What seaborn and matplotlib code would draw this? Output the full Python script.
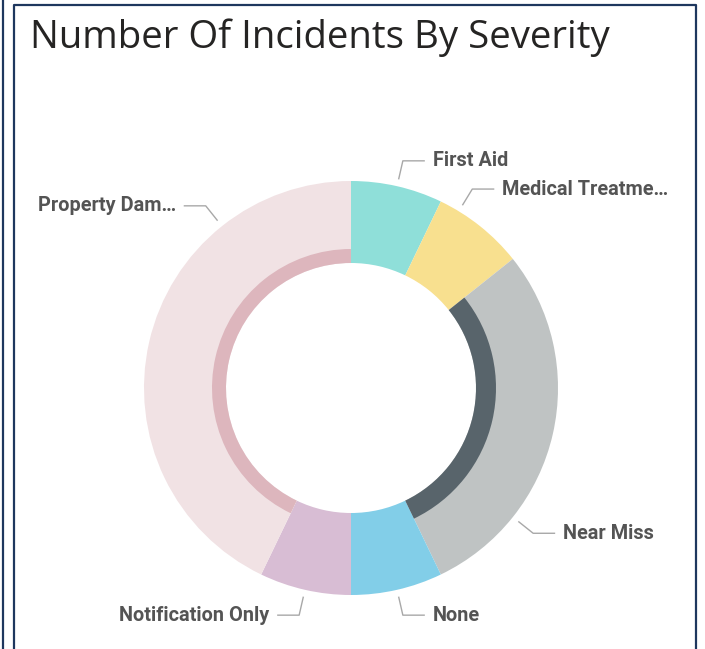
import numpy as np
import matplotlib
matplotlib.use("Agg")
import matplotlib.pyplot as plt
from matplotlib.lines import Line2D
import seaborn as sns

# ---------------- data ----------------
categories = ["First Aid", "Medical Treatment", "Near Miss", "None",
              "Notification Only", "Property Damage"]
counts = [1, 1, 4, 1, 1, 6]
display_labels = ["First Aid", "Medical Treatme…", "Near Miss", "None",
                  "Notification Only", "Property Dam…"]

# ---------------- style ----------------
sns.set_theme(style="white")
plt.rcParams['font.family'] = ['Roboto', 'DejaVu Sans']

colors = ["#8FDFD9", "#F8E08F", "#BFC3C3", "#82CEE8", "#D8BDD4", "#F1E2E4"]
inner_arcs = {"Near Miss": ("#58646B", 145), "Property Damage": ("#DDB6BD", 139)}
label_frac = {"Medical Treatment": 0.22, "Near Miss": 0.75, "Property Damage": 0.75}

W, H = 705, 649
cx, cy, R = 351, 388, 207      # pixel centre (from top) and outer radius
r_in_px = 125
half = 260

fig = plt.figure(figsize=(W / 100, H / 100), dpi=100)
fig.patch.set_facecolor("white")
ax = fig.add_axes([(cx - half) / W, (H - cy - half) / H, 2 * half / W, 2 * half / H])

r_in = r_in_px / R
ax.pie(counts, colors=colors, startangle=90, counterclock=False, radius=1.0,
       wedgeprops=dict(width=1.0 - r_in, linewidth=0))

for cat, (col, rpx) in inner_arcs.items():
    cols = [col if c == cat else "none" for c in categories]
    rr = rpx / R
    ax.pie(counts, colors=cols, startangle=90, counterclock=False, radius=rr,
           wedgeprops=dict(width=rr - r_in, linewidth=0))

lim = half / R
ax.set_xlim(-lim, lim)
ax.set_ylim(-lim, lim)
ax.set_aspect("equal")
ax.axis("off")

# leader lines and labels
total = float(sum(counts))
cum = np.cumsum([0] + counts)
r1, r2 = 214 / R, 233 / R
hlen, gap = 22 / R, 8 / R
for i, (cat, lab) in enumerate(zip(categories, display_labels)):
    f = label_frac.get(cat, 0.5)
    a = np.deg2rad((cum[i] + f * counts[i]) / total * 360.0)
    x1, y1 = r1 * np.sin(a), r1 * np.cos(a)
    x2, y2 = r2 * np.sin(a), r2 * np.cos(a)
    side = 1 if np.sin(a) > 0 else -1
    x3 = x2 + side * hlen
    ax.plot([x1, x2, x3], [y1, y2, y2], color="#A8A8A8", lw=1.0,
            solid_capstyle="butt", clip_on=False)
    ax.text(x3 + side * gap, y2, lab, ha="left" if side > 0 else "right",
            va="center", fontsize=14.3, fontweight="bold", color="#545454",
            clip_on=False)

# title
fig.text(30 / W, 1 - 48 / H, "Number Of Incidents By Severity",
         fontfamily=["Open Sans", "DejaVu Sans"], fontsize=27.6,
         color="#252423", va="baseline", ha="left")

# frame lines
navy = "#1E375E"
fig.add_artist(Line2D([3 / W, 3 / W], [0, 1], transform=fig.transFigure,
                      color=navy, lw=1.6))
fig.add_artist(Line2D([14 / W, 14 / W, 696 / W, 696 / W],
                      [0, 1 - 4.5 / H, 1 - 4.5 / H, 0], transform=fig.transFigure,
                      color=navy, lw=1.6))

fig.savefig("out.png", dpi=100, facecolor="white")
